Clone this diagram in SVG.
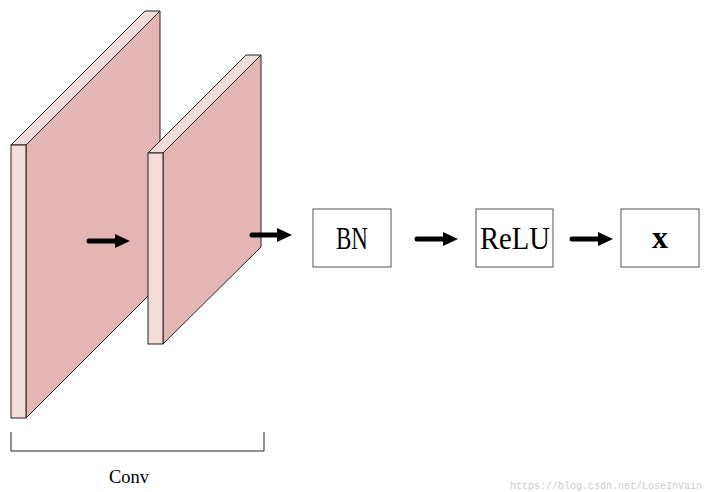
<svg xmlns="http://www.w3.org/2000/svg" width="718" height="492" viewBox="0 0 718 492">
<style>
.face{fill:#e3b6b4;stroke:#222;stroke-width:1}
.edge{fill:#f4dcdb;stroke:#222;stroke-width:1}
.box{fill:#fff;stroke:#555;stroke-width:1}
.lbl{font-family:"Liberation Serif",serif;font-size:32px;fill:#000;text-anchor:middle}
.arr{stroke:#000;stroke-width:5;stroke-linecap:round;fill:none}
</style>
<defs><marker id="ah" markerWidth="15" markerHeight="14" refX="2" refY="7" orient="auto" markerUnits="userSpaceOnUse"><path d="M0,0 L15,7 L0,14 z" fill="#000"/></marker></defs>
<rect width="718" height="492" fill="#fff"/>
<g id="slab1">
<polygon class="face" points="26,145 160,11 160,284 26,418"/>
<polygon class="edge" points="11,145 145,11 160,11 26,145"/>
<rect class="edge" x="11" y="145" width="15" height="273"/>
</g>
<g id="slab2">
<polygon class="face" points="163,153 261,55 261,247 163,344"/>
<polygon class="edge" points="148,153 246,55 261,55 163,153"/>
<rect class="edge" x="148" y="153" width="15" height="191"/>
</g>
<g id="bn"><rect class="box" x="313" y="209" width="78" height="58"/><text class="lbl" x="352" y="249" textLength="32" lengthAdjust="spacingAndGlyphs">BN</text></g>
<g id="relu"><rect class="box" x="476" y="209" width="77" height="58"/><text class="lbl" x="515" y="249" textLength="70" lengthAdjust="spacingAndGlyphs">ReLU</text></g>
<g id="x"><rect class="box" x="621" y="209" width="78" height="58"/><text class="lbl" x="660" y="248" font-size="28" font-weight="bold">x</text></g>
<g id="conv">
<path d="M11,432 V451 H264 V432" fill="none" stroke="#222" stroke-width="1"/>
<text x="129" y="483" font-family="Liberation Serif,serif" font-size="19" text-anchor="middle" textLength="40" lengthAdjust="spacingAndGlyphs">Conv</text>
</g>
<g id="connectors">
<line class="arr" x1="89" y1="241" x2="117" y2="241" marker-end="url(#ah)"/>
<line class="arr" x1="252" y1="235" x2="279" y2="235" marker-end="url(#ah)"/>
<line class="arr" x1="417" y1="239" x2="445" y2="239" marker-end="url(#ah)"/>
<line class="arr" x1="572" y1="239" x2="600" y2="239" marker-end="url(#ah)"/>
</g>
<text x="702" y="489" font-family="Liberation Mono,monospace" font-size="10" fill="#ccc" text-anchor="end">https://blog.csdn.net/LoseInVain</text>
</svg>
